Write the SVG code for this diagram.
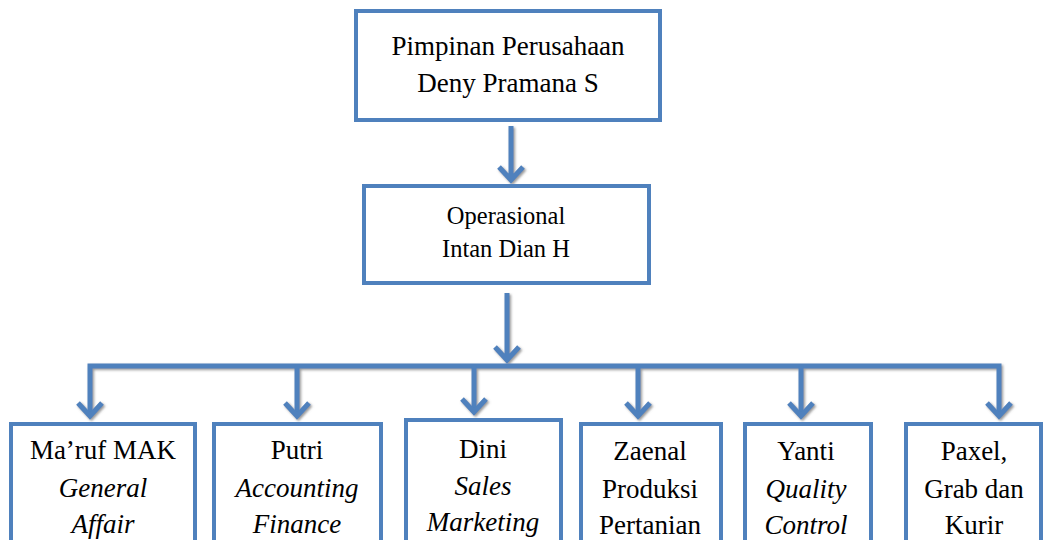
<svg xmlns="http://www.w3.org/2000/svg" width="1046" height="540" viewBox="0 0 1046 540">
<defs>
<style>
.box{fill:#ffffff;stroke:#4F81BD;stroke-width:4}
.t{font-family:"Liberation Serif","Times New Roman",serif;fill:#000;text-anchor:middle}
.i{font-style:italic}
.ln{fill:none;stroke:#4F81BD;stroke-width:5;stroke-linejoin:miter;stroke-linecap:butt}
</style>
<filter id="sh" x="-20%" y="-20%" width="140%" height="140%">
<feDropShadow dx="1.5" dy="1.5" stdDeviation="0.8" flood-color="#7f7f7f" flood-opacity="0.8"/>
</filter>
</defs>
<rect width="1046" height="540" fill="#ffffff"/>
<g id="connectors" filter="url(#sh)">
<path class="ln" d="M511,126 V180 M499,167 L511,180 L523,167"/>
<path class="ln" d="M507,293 V360 M495,347 L507,360 L519,347"/>
<path class="ln" d="M90,416 V366 H999 V416"/>
<path class="ln" d="M297,366 V416 M474,366 V412 M638,366 V416 M801,366 V416"/>
<path class="ln" d="M78,403 L90,416 L102,403 M285,403 L297,416 L309,403 M462,399 L474,412 L486,399 M626,403 L638,416 L650,403 M789,403 L801,416 L813,403 M987,403 L999,416 L1011,403"/>
</g>
<g id="n-pimpinan">
<rect class="box" x="356" y="11" width="304" height="109"/>
<text class="t" x="508" y="55" font-size="27">Pimpinan Perusahaan</text>
<text class="t" x="508" y="92" font-size="27">Deny Pramana S</text>
</g>
<g id="n-operasional">
<rect class="box" x="364" y="186" width="285" height="97"/>
<text class="t" x="506" y="224" font-size="24.5">Operasional</text>
<text class="t" x="506" y="257" font-size="24.5">Intan Dian H</text>
</g>
<g id="n-maruf">
<rect class="box" x="11" y="424" width="184" height="130"/>
<text class="t" x="103" y="459" font-size="27">Ma’ruf MAK</text>
<text class="t i" x="103" y="497" font-size="27">General</text>
<text class="t i" x="103" y="533" font-size="27">Affair</text>
</g>
<g id="n-putri">
<rect class="box" x="214" y="424" width="167" height="130"/>
<text class="t" x="297" y="459" font-size="27">Putri</text>
<text class="t i" x="297" y="497" font-size="27">Accounting</text>
<text class="t i" x="297" y="533" font-size="27">Finance</text>
</g>
<g id="n-dini">
<rect class="box" x="406" y="420" width="155" height="134"/>
<text class="t" x="483" y="458" font-size="27">Dini</text>
<text class="t i" x="483" y="495" font-size="27">Sales</text>
<text class="t i" x="483" y="531" font-size="27">Marketing</text>
</g>
<g id="n-zaenal">
<rect class="box" x="581" y="424" width="140" height="130"/>
<text class="t" x="650" y="460" font-size="27">Zaenal</text>
<text class="t" x="650" y="498" font-size="27">Produksi</text>
<text class="t" x="650" y="534" font-size="27">Pertanian</text>
</g>
<g id="n-yanti">
<rect class="box" x="745" y="424" width="126" height="130"/>
<text class="t" x="806" y="460" font-size="27">Yanti</text>
<text class="t i" x="806" y="498" font-size="27">Quality</text>
<text class="t i" x="806" y="534" font-size="27">Control</text>
</g>
<g id="n-paxel">
<rect class="box" x="906" y="424" width="135" height="130"/>
<text class="t" x="974" y="460" font-size="27">Paxel,</text>
<text class="t" x="974" y="498" font-size="27">Grab dan</text>
<text class="t" x="974" y="534" font-size="27">Kurir</text>
</g>
</svg>
